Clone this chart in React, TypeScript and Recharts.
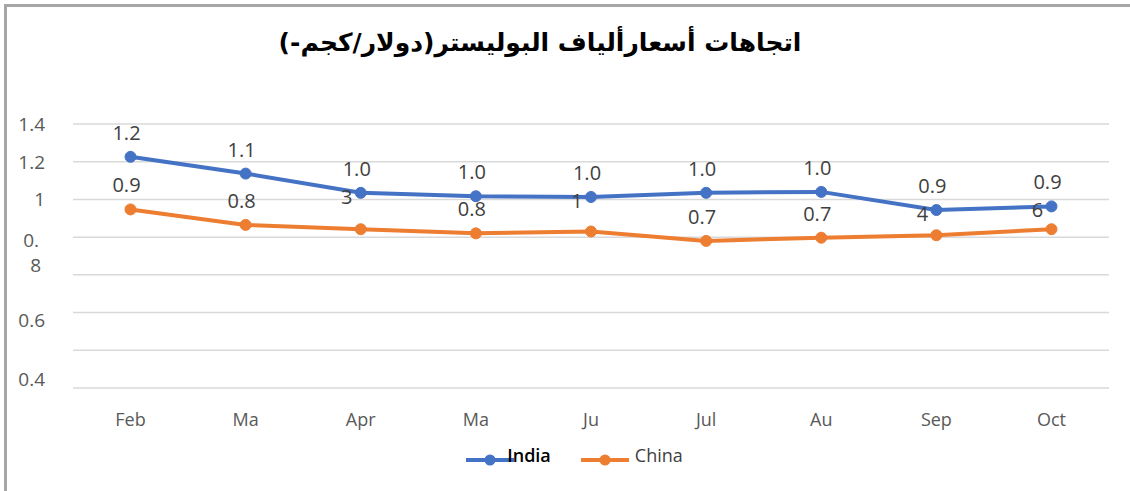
import React from "react";
import { LineChart, Line, XAxis, YAxis, CartesianGrid, LabelList, Legend } from "recharts";

const TITLE = "اتجاهات أسعارألياف البوليستر(دولار/كجم-)";
const categories = ["Feb", "Ma", "Apr", "Ma", "Ju", "Jul", "Au", "Sep", "Oct"];
const india = [1.226, 1.137, 1.035, 1.017, 1.013, 1.035, 1.04, 0.944, 0.963];
const china = [0.947, 0.865, 0.842, 0.82, 0.83, 0.78, 0.797, 0.81, 0.842];
const indiaLabelTop = ["1.2", "1.1", "1.0", "1.0", "1.0", "1.0", "1.0", "0.9", "0.9"];
const indiaLabelSub = ["", "", "3", "", "1", "", "", "4", "6"];
const chinaLabels = ["0.9", "0.8", "", "0.8", "", "0.7", "0.7", "", ""];
const yTicks = [0, 0.2, 0.4, 0.6, 0.8, 1.0, 1.2, 1.4];
const yTickLabels = ["0.4", "", "0.6", "", "0.\n8", "1", "1.2", "1.4"];

const BLUE = "#4472C4";
const ORANGE = "#ED7D31";
const FONT = "'Open Sans', 'Noto Sans', sans-serif";

const data = categories.map((c, i) => ({ month: c, India: india[i], China: china[i] }));

const YTick = (props: any) => {
  const { x, y, payload } = props;
  const idx = yTicks.findIndex((t) => Math.abs(t - payload.value) < 1e-6);
  const label = idx >= 0 ? yTickLabels[idx] : "";
  if (!label) return null;
  let dy = 7;
  if (payload.value < 0.1) dy = -2;
  if (Math.abs(payload.value - 0.4) < 1e-6) dy = 14;
  const lines = label.split("\n");
  if (lines.length > 1) {
    return (
      <g>
        <text x={x - 26} y={y + 10} fill="#595959" fontSize={19} fontFamily={FONT} textAnchor="end">{lines[0]}</text>
        <text x={x - 24} y={y + 35} fill="#595959" fontSize={19} fontFamily={FONT} textAnchor="end">{lines[1]}</text>
      </g>
    );
  }
  return (
    <text x={x - 20} y={y + dy} fill="#595959" fontSize={19} fontFamily={FONT} textAnchor="end">{label}</text>
  );
};

const XTick = (props: any) => {
  const { x, y, payload } = props;
  return (
    <text x={x} y={y + 30} fill="#595959" fontSize={18} fontFamily={FONT} textAnchor="middle">{payload.value}</text>
  );
};

const IndiaLabel = (props: any) => {
  const { x, y, index } = props;
  const top = indiaLabelTop[index];
  const sub = indiaLabelSub[index];
  return (
    <g>
      <text x={x - 4} y={y - 17} fill="#404040" fontSize={20} fontFamily={FONT} textAnchor="middle">{top}</text>
      {sub ? (
        <text x={x - 14} y={y + 11} fill="#404040" fontSize={20} fontFamily={FONT} textAnchor="middle">{sub}</text>
      ) : null}
    </g>
  );
};

const ChinaLabel = (props: any) => {
  const { x, y, index } = props;
  const t = chinaLabels[index];
  if (!t) return null;
  return (
    <text x={x - 4} y={y - 17} fill="#404040" fontSize={20} fontFamily={FONT} textAnchor="middle">{t}</text>
  );
};

const LegendContent = () => {
  const item = (color: string, name: string, textColor: string, bold: boolean, mr: number) => (
    <div style={{ display: "flex", alignItems: "center", marginRight: mr }}>
      <svg width={48} height={16} style={{ marginTop: 10 }}>
        <line x1={0} y1={8} x2={48} y2={8} stroke={color} strokeWidth={4} />
        <circle cx={24} cy={8} r={5.5} fill={color} />
      </svg>
      <span style={{ fontFamily: FONT, fontSize: 18, color: textColor, fontWeight: bold ? 600 : 400, marginLeft: bold ? -7 : 6 }}>{name}</span>
    </div>
  );
  return (
    <div style={{ display: "flex", justifyContent: "center", alignItems: "center", height: 40, paddingLeft: 40 }}>
      {item(BLUE, "India", "#000000", true, 30)}
      {item(ORANGE, "China", "#404040", false, 0)}
    </div>
  );
};

export default function App() {
  return (
    <div style={{ position: "absolute", left: 0, top: 0, width: 1130, height: 491, background: "#fff", overflow: "hidden" }}>
      <div style={{ position: "absolute", left: 4, top: 4, width: 1130, height: 491, borderTop: "3px solid #a6a6a6", borderLeft: "3px solid #a6a6a6" }} />
      <div
        dir="rtl"
        style={{
          position: "absolute",
          left: 0,
          width: 1080,
          top: 28,
          textAlign: "center",
          fontFamily: "'DejaVu Sans', sans-serif",
          fontWeight: 700,
          fontSize: 25,
          color: "#000",
        }}
      >
        {TITLE}
      </div>
      <div style={{ position: "absolute", left: 0, top: 0 }}>
        <LineChart width={1130} height={491} data={data} margin={{ top: 124, right: 21, bottom: 16, left: 0 }}>
          <CartesianGrid horizontal={true} vertical={false} stroke="#d9d9d9" strokeWidth={1.5} />
          <XAxis
            dataKey="month"
            axisLine={false}
            tickLine={false}
            height={47}
            padding={{ left: 57.5, right: 57.5 }}
            tick={<XTick />}
            interval={0}
          />
          <YAxis
            width={73}
            domain={[0, 1.4]}
            ticks={yTicks}
            axisLine={false}
            tickLine={false}
            tick={<YTick />}
            interval={0}
          />
          <Legend verticalAlign="bottom" height={40} content={<LegendContent />} />
          <Line
            type="linear"
            dataKey="India"
            stroke={BLUE}
            strokeWidth={4}
            dot={{ r: 5.5, fill: BLUE, stroke: BLUE, strokeWidth: 1 }}
            isAnimationActive={false}
          >
            <LabelList dataKey="India" content={<IndiaLabel />} />
          </Line>
          <Line
            type="linear"
            dataKey="China"
            stroke={ORANGE}
            strokeWidth={4}
            dot={{ r: 5.5, fill: ORANGE, stroke: ORANGE, strokeWidth: 1 }}
            isAnimationActive={false}
          >
            <LabelList dataKey="China" content={<ChinaLabel />} />
          </Line>
        </LineChart>
      </div>
    </div>
  );
}
